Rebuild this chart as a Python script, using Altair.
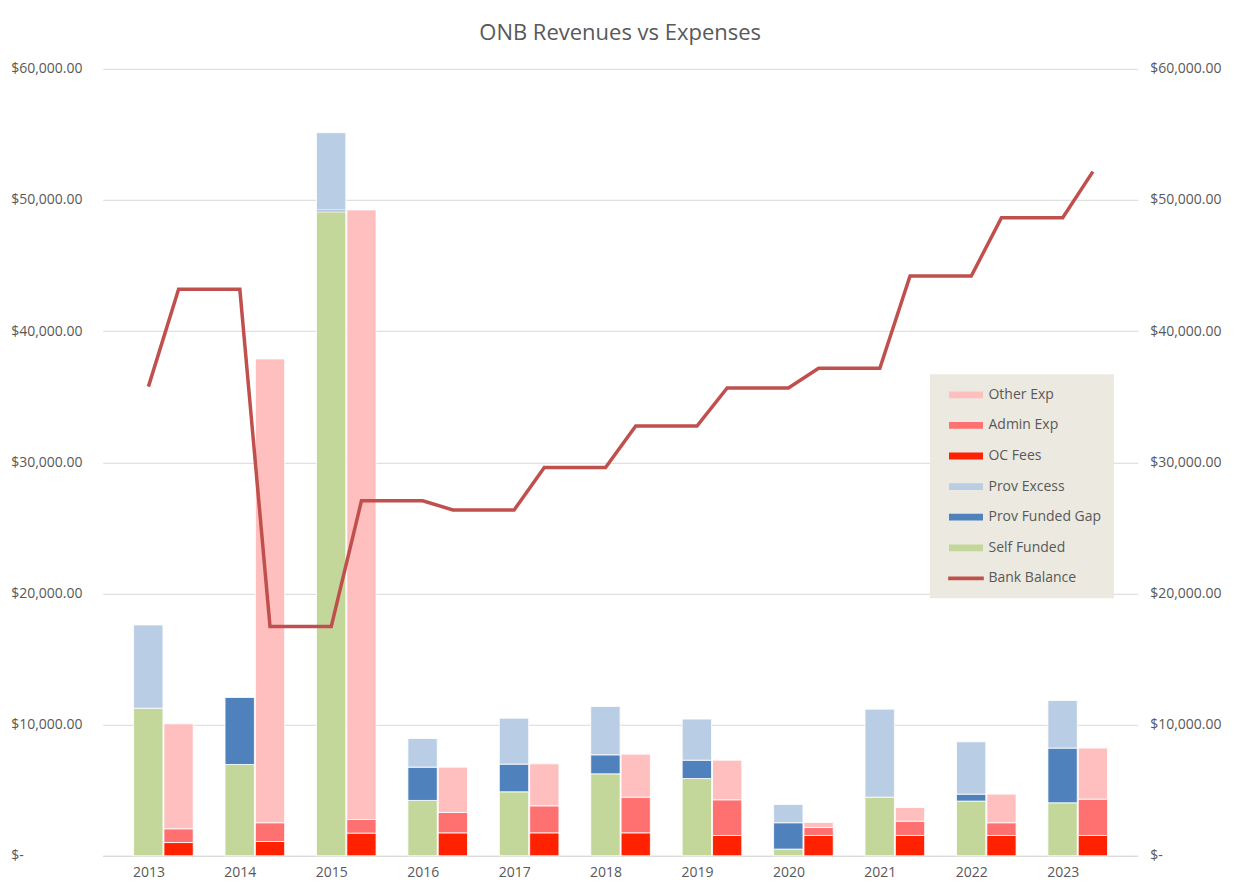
import altair as alt
import pandas as pd

years = list(range(2013, 2024))

# Revenues (stacked, left bar of each year)
self_funded = [11250, 6960, 49100, 4220, 4880, 6250, 5890, 510, 4470, 4170, 4040]
prov_funded_gap = [0, 5110, 140, 2540, 2110, 1450, 1400, 2010, 0, 530, 4170]
prov_excess = [6350, 0, 5890, 2180, 3500, 3680, 3130, 1390, 6710, 3990, 3630]

# Expenses (stacked, right bar of each year)
oc_fees = [1010, 1090, 1730, 1750, 1750, 1750, 1550, 1550, 1550, 1550, 1550]
admin_exp = [1050, 1430, 1040, 1550, 2060, 2720, 2720, 610, 1090, 970, 2770]
other_exp = [8000, 35360, 46470, 3460, 3200, 3280, 3020, 380, 1040, 2180, 3890]

# Bank balance at the revenue bar and at the expense bar of each year
balance_at_rev = [35770, 43190, 17480, 27060, 26370, 29600, 32770, 35670, 37170, 44200, 48650]
balance_at_exp = [43190, 17480, 27060, 26370, 29600, 32770, 35670, 37170, 44200, 48650, 52160]

series_order = ["Other Exp", "Admin Exp", "OC Fees", "Prov Excess",
                "Prov Funded Gap", "Self Funded", "Bank Balance"]
series_colors = ["#FFBFBF", "#FF7171", "#FF2200", "#B9CDE5",
                 "#4F81BD", "#C4D79B", "#C0504D"]

rows = []
for i, y in enumerate(years):
    for name, arr, side, order in [
        ("Self Funded", self_funded, "rev", 1),
        ("Prov Funded Gap", prov_funded_gap, "rev", 2),
        ("Prov Excess", prov_excess, "rev", 3),
        ("OC Fees", oc_fees, "exp", 1),
        ("Admin Exp", admin_exp, "exp", 2),
        ("Other Exp", other_exp, "exp", 3),
    ]:
        rows.append({"year": y, "series": name, "value": arr[i], "side": side, "order": order})
bar_df = pd.DataFrame(rows)

lrows = []
for i, y in enumerate(years):
    lrows.append({"year": y, "side": "rev", "seq": 2 * i, "balance": balance_at_rev[i], "series": "Bank Balance"})
    lrows.append({"year": y, "side": "exp", "seq": 2 * i + 1, "balance": balance_at_exp[i], "series": "Bank Balance"})
line_df = pd.DataFrame(lrows)

FONT = "Open Sans"
TXT = "#595959"

xscale = alt.Scale(domain=[2012.5, 2023.82], nice=False, zero=False)
yscale = alt.Scale(domain=[0, 60000], nice=False)

label_expr = "datum.value == 0 ? '$-' : '$' + format(datum.value, ',.2f')"

left_axis = alt.Axis(
    orient="left", values=list(range(0, 60001, 10000)), labelExpr=label_expr,
    labelAlign="left", labelPadding=92, ticks=False, domain=False,
    grid=True, gridColor="#D9D9D9", gridWidth=1,
    labelFontSize=14, labelColor=TXT, labelFont=FONT, title=None,
)
right_axis = alt.Axis(
    orient="right", values=list(range(0, 60001, 10000)), labelExpr=label_expr,
    labelAlign="left", labelPadding=12, ticks=False, domain=False, grid=False,
    labelFontSize=14, labelColor=TXT, labelFont=FONT, title=None,
)
x_axis = alt.Axis(
    values=years, format="d", title=None, grid=False, ticks=False,
    domain=True, domainColor="#D9D9D9", labelPadding=10,
    labelFontSize=14, labelColor=TXT, labelFont=FONT,
)

legend = alt.Legend(
    title=None, orient="none", legendX=827.3, legendY=305.5,
    fillColor="#ECE9E0", padding=12,
    symbolType=alt.ExprRef(expr="datum.value == 'Bank Balance' ? 'M-2.1,-0.22H2.1V0.22H-2.1Z' : 'M-2,-0.4H2V0.4H-2Z'"),
    symbolSize=289, symbolOffset=15.5,
    labelOffset=14, rowPadding=14.6, symbolStrokeWidth=0,
    labelFontSize=14, labelColor=TXT, labelFont=FONT,
)
color = alt.Color("series:N", scale=alt.Scale(domain=series_order, range=series_colors), legend=legend)

bars = alt.Chart(bar_df).transform_filter(
    "datum.value > 0"
).transform_stack(
    stack="value", groupby=["year", "side"], as_=["y0", "y1"],
    sort=[alt.SortField("order", order="ascending")],
).transform_calculate(
    xa="datum.year + (datum.side == 'rev' ? -0.162 : 0.170)",
    xb="datum.year + (datum.side == 'rev' ? 0.159 : 0.490)",
).mark_bar(stroke="white", strokeWidth=0.8).encode(
    x=alt.X("xa:Q", scale=xscale, axis=x_axis),
    x2="xb:Q",
    y=alt.Y("y0:Q", scale=yscale, axis=left_axis),
    y2="y1:Q",
    color=color,
)

line = alt.Chart(line_df).transform_calculate(
    pos="datum.year + (datum.side == 'exp' ? 0.33 : 0)"
).mark_line(strokeWidth=3.5).encode(
    x=alt.X("pos:Q", scale=xscale),
    y=alt.Y("balance:Q", scale=yscale, axis=right_axis),
    color=color,
    order="seq:Q",
)

chart = alt.layer(bars, line).resolve_scale(y="independent").properties(
    width=1035, height=787,
    title=alt.Title("ONB Revenues vs Expenses", fontSize=22, font=FONT, color=TXT,
                    fontWeight="normal", anchor="middle", frame="group", offset=17),
    autosize=alt.AutoSizeParams(type="none"),
    padding={"left": 94.7, "top": 60.8, "right": 90, "bottom": 30},
).configure_view(stroke=None)

chart.save("out.html", embed_options={"renderer": "svg", "actions": False})
